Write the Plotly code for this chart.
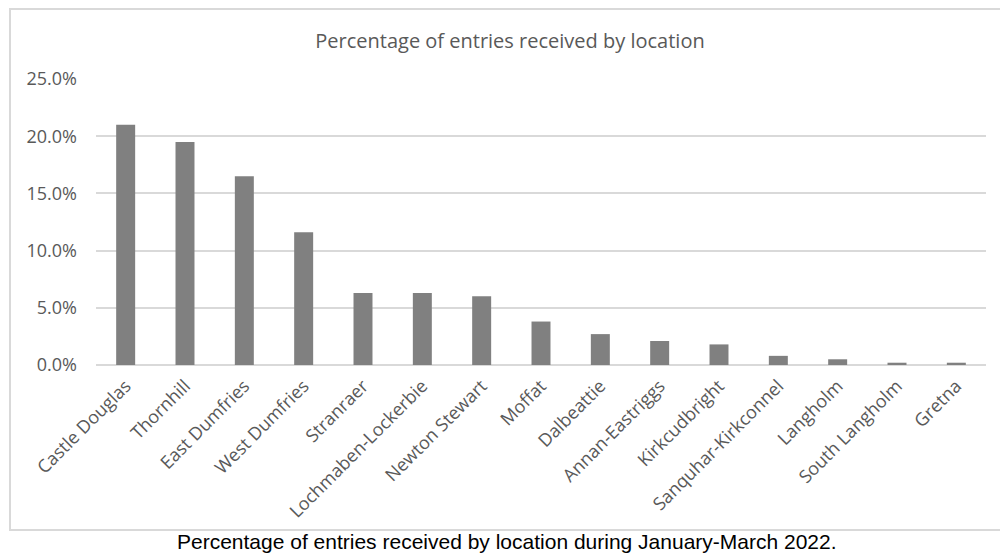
import plotly.graph_objects as go

# Share of entries per location, January-March 2022 (percent)
locations = [
    "Castle Douglas", "Thornhill", "East Dumfries", "West Dumfries", "Stranraer",
    "Lochmaben-Lockerbie", "Newton Stewart", "Moffat", "Dalbeattie",
    "Annan-Eastriggs", "Kirkcudbright", "Sanquhar-Kirkconnel", "Langholm",
    "South Langholm", "Gretna",
]
share_pct = [21.0, 19.5, 16.5, 11.6, 6.3, 6.3, 6.0, 3.8, 2.7, 2.1, 1.8, 0.8, 0.5, 0.2, 0.2]
y_ticks = [0, 5, 10, 15, 20, 25]
y_tick_labels = ["0.0%", "5.0%", "10.0%", "15.0%", "20.0%", "25.0%"]

W, H = 1000, 554
L, R, T, B = 96, 14, 79, 189
pw, ph = W - L - R, H - T - B


def px_x(x):
    return (x - L) / pw


def px_y(y):
    return (H - B - y) / ph


fig = go.Figure(
    go.Bar(
        x=locations,
        y=share_pct,
        marker=dict(color="#808080", line=dict(width=0)),
        hoverinfo="x+y",
    )
)

fig.update_layout(
    width=W,
    height=H,
    margin=dict(l=L, r=R, t=T, b=B),
    paper_bgcolor="white",
    plot_bgcolor="white",
    bargap=0.68,
    showlegend=False,
    title=dict(
        text="Percentage of entries received by location",
        font=dict(family="Open Sans", size=20, color="#595959"),
        x=px_x(510), xref="paper", xanchor="center",
        y=1 - 41 / H, yref="container", yanchor="middle",
    ),
    xaxis=dict(
        tickangle=-45,
        tickfont=dict(family="Open Sans", size=18, color="#595959"),
        showgrid=False,
        ticks="",
        showline=False,
        ticklabelstandoff=6,
    ),
    yaxis=dict(
        range=[0, 25],
        tickmode="array",
        tickvals=y_ticks,
        ticktext=y_tick_labels,
        tickfont=dict(family="Open Sans", size=18, color="#595959"),
        showgrid=True,
        gridcolor="#d9d9d9",
        gridwidth=1.5,
        zeroline=True,
        zerolinecolor="#d9d9d9",
        zerolinewidth=1.5,
        showline=False,
        ticks="",
        ticklabelstandoff=18,
    ),
    shapes=[
        dict(
            type="rect", xref="paper", yref="paper",
            x0=px_x(10), x1=px_x(1002), y0=px_y(530), y1=px_y(9),
            line=dict(color="#d9d9d9", width=2),
            fillcolor="rgba(0,0,0,0)",
            layer="below",
        )
    ],
    annotations=[
        dict(
            text="Percentage of entries received by location during January-March 2022.",
            xref="paper", yref="paper",
            x=px_x(507), y=px_y(541),
            xanchor="center", yanchor="middle",
            showarrow=False,
            font=dict(family="Liberation Sans, Arial", size=21, color="#000000"),
        )
    ],
)

fig.write_html("out.html")
